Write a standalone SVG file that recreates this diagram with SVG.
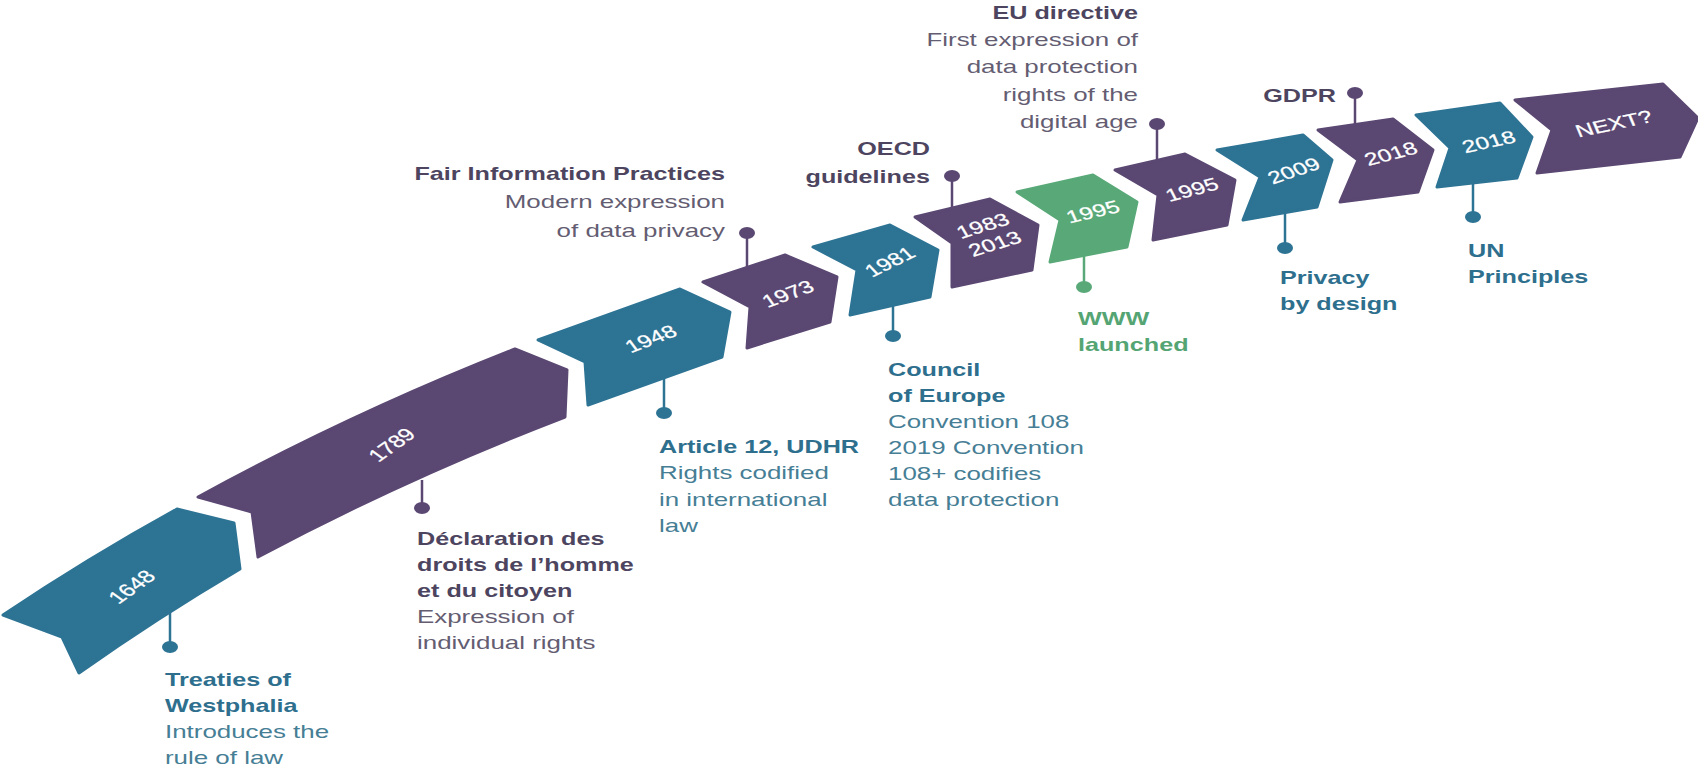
<svg xmlns="http://www.w3.org/2000/svg" width="1698" height="767" viewBox="0 0 1698 767">
<style>
text{font-family:"Liberation Sans",Arial,sans-serif}
.b{font-weight:bold;font-size:18px}
.r{font-weight:normal;font-size:18.5px}
.date{fill:#ffffff;font-size:17.5px;text-anchor:middle;dominant-baseline:central;stroke:#ffffff;stroke-width:0.25}
.teal{fill:#2d7394;stroke:#2d7394}
.purple{fill:#5a4772;stroke:#5a4772}
.green{fill:#59a978;stroke:#59a978}
.shape{stroke-width:3;stroke-linejoin:round}
.tb{fill:#2e6f8e}.tr{fill:#467e95}
.pb{fill:#4d4560}.pr{fill:#645d72}
.gb{fill:#55a574}
.ln{stroke-width:2.5;fill:none}
.lt{stroke:#2d7394}.lp{stroke:#5a4772}.lg{stroke:#59a978}
.dt{fill:#2d7394}.dp{fill:#5a4772}.dg{fill:#59a978}
</style>
<rect width="1698" height="767" fill="#ffffff"/>

<g id="connectors">
<line class="ln lt" x1="170" y1="612" x2="170" y2="647"/><ellipse class="dt" cx="170" cy="647" rx="8" ry="6"/>
<line class="ln lp" x1="422" y1="480" x2="422" y2="508"/><ellipse class="dp" cx="422" cy="508" rx="8" ry="6"/>
<line class="ln lt" x1="664" y1="378" x2="664" y2="413"/><ellipse class="dt" cx="664" cy="413" rx="8" ry="6"/>
<line class="ln lp" x1="747" y1="268" x2="747" y2="233"/><ellipse class="dp" cx="747" cy="233" rx="8" ry="6"/>
<line class="ln lt" x1="893" y1="305" x2="893" y2="336"/><ellipse class="dt" cx="893" cy="336" rx="8" ry="6"/>
<line class="ln lp" x1="952" y1="208" x2="952" y2="176"/><ellipse class="dp" cx="952" cy="176" rx="8" ry="6"/>
<line class="ln lg" x1="1084" y1="255" x2="1084" y2="287"/><ellipse class="dg" cx="1084" cy="287" rx="8" ry="6"/>
<line class="ln lp" x1="1157" y1="161" x2="1157" y2="124"/><ellipse class="dp" cx="1157" cy="124" rx="8" ry="6"/>
<line class="ln lt" x1="1285" y1="213" x2="1285" y2="248"/><ellipse class="dt" cx="1285" cy="248" rx="8" ry="6"/>
<line class="ln lp" x1="1355" y1="125" x2="1355" y2="93"/><ellipse class="dp" cx="1355" cy="93" rx="8" ry="6"/>
<line class="ln lt" x1="1473" y1="183" x2="1473" y2="217"/><ellipse class="dt" cx="1473" cy="217" rx="8" ry="6"/>
</g>

<g id="n1648">
<path class="shape teal" d="M3,615 Q88,558 177,509 L234,523 L240,569 Q157,618 79,673 L62,637 Z"/>
<text class="date" transform="translate(132,587) scale(1.4,1) rotate(-45)">1648</text>
<text transform="translate(165,686) scale(1.4,1)"><tspan class="b tb" x="0" y="0">Treaties of</tspan><tspan class="b tb" x="0" dy="26">Westphalia</tspan><tspan class="r tr" x="0" dy="26">Introduces the</tspan><tspan class="r tr" x="0" dy="26">rule of law</tspan></text>
</g>

<g id="n1789">
<path class="shape purple" d="M198,497 Q352,413 515,349 L567,370 L565,417 Q406,478 258,557 L252,512 Z"/>
<text class="date" transform="translate(392,445) scale(1.4,1) rotate(-45)">1789</text>
<text transform="translate(417,545) scale(1.4,1)"><tspan class="b pb" x="0" y="0">Déclaration des</tspan><tspan class="b pb" x="0" dy="26">droits de l’homme</tspan><tspan class="b pb" x="0" dy="26">et du citoyen</tspan><tspan class="r pr" x="0" dy="26">Expression of</tspan><tspan class="r pr" x="0" dy="26">individual rights</tspan></text>
</g>

<g id="n1948">
<polygon class="shape teal" points="538,340 680,289 730,312 722,357 588,405 585,362"/>
<text class="date" transform="translate(651,339) scale(1.4,1) rotate(-28)">1948</text>
<text transform="translate(659,453) scale(1.4,1)"><tspan class="b tb" x="0" y="0">Article 12, UDHR</tspan><tspan class="r tr" x="0" dy="26.5">Rights codified</tspan><tspan class="r tr" x="0" dy="26.5">in international</tspan><tspan class="r tr" x="0" dy="26.5">law</tspan></text>
</g>

<g id="n1973">
<polygon class="shape purple" points="703,282 785,255 837,277 830,322 747,348 750,307"/>
<text class="date" transform="translate(788,294) scale(1.4,1) rotate(-27)">1973</text>
<text text-anchor="end" transform="translate(725,180) scale(1.4,1)"><tspan class="b pb" x="0" y="0">Fair Information Practices</tspan><tspan class="r pr" x="0" dy="28.5">Modern expression</tspan><tspan class="r pr" x="0" dy="28.5">of data privacy</tspan></text>
</g>

<g id="n1981">
<polygon class="shape teal" points="813,247 890,225 938,250 930,297 850,315 857,270"/>
<text class="date" transform="translate(890,262) scale(1.4,1) rotate(-34)">1981</text>
<text transform="translate(888,376) scale(1.4,1)"><tspan class="b tb" x="0" y="0">Council</tspan><tspan class="b tb" x="0" dy="26">of Europe</tspan><tspan class="r tr" x="0" dy="26">Convention 108</tspan><tspan class="r tr" x="0" dy="26">2019 Convention</tspan><tspan class="r tr" x="0" dy="26">108+ codifies</tspan><tspan class="r tr" x="0" dy="26">data protection</tspan></text>
</g>

<g id="n1983">
<polygon class="shape purple" points="915,217 990,199 1038,225 1032,270 952,287 952,243"/>
<text class="date" transform="translate(983,226) scale(1.4,1) rotate(-23)">1983</text>
<text class="date" transform="translate(995,244) scale(1.4,1) rotate(-23)">2013</text>
<text text-anchor="end" transform="translate(930,155) scale(1.4,1)"><tspan class="b pb" x="0" y="0">OECD</tspan><tspan class="b pb" x="0" dy="28">guidelines</tspan></text>
</g>

<g id="n1995www">
<polygon class="shape green" points="1017,192 1093,175 1137,202 1127,247 1050,262 1060,220"/>
<text class="date" transform="translate(1093,212) scale(1.4,1) rotate(-18)">1995</text>
<text transform="translate(1078,325) scale(1.4,1)"><tspan class="b gb" x="0" y="0">WWW</tspan><tspan class="b gb" x="0" dy="26">launched</tspan></text>
</g>

<g id="n1995eu">
<polygon class="shape purple" points="1115,170 1185,154 1235,180 1227,225 1153,240 1158,195"/>
<text class="date" transform="translate(1192,190) scale(1.4,1) rotate(-20)">1995</text>
<text text-anchor="end" transform="translate(1138,19) scale(1.4,1)"><tspan class="b pb" x="0" y="0">EU directive</tspan><tspan class="r pr" x="0" dy="27.2">First expression of</tspan><tspan class="r pr" x="0" dy="27.2">data protection</tspan><tspan class="r pr" x="0" dy="27.2">rights of the</tspan><tspan class="r pr" x="0" dy="27.2">digital age</tspan></text>
</g>

<g id="n2009">
<polygon class="shape teal" points="1217,150 1303,135 1332,160 1317,207 1243,220 1260,177"/>
<text class="date" transform="translate(1294,171) scale(1.4,1) rotate(-25)">2009</text>
<text transform="translate(1280,284) scale(1.4,1)"><tspan class="b tb" x="0" y="0">Privacy</tspan><tspan class="b tb" x="0" dy="26">by design</tspan></text>
</g>

<g id="n2018gdpr">
<polygon class="shape purple" points="1318,130 1393,119 1433,150 1418,192 1340,202 1358,160"/>
<text class="date" transform="translate(1391,154) scale(1.4,1) rotate(-20)">2018</text>
<text text-anchor="end" transform="translate(1336,102) scale(1.4,1)"><tspan class="b pb" x="0" y="0">GDPR</tspan></text>
</g>

<g id="n2018un">
<polygon class="shape teal" points="1416,115 1500,103 1532,137 1517,178 1437,187 1450,148"/>
<text class="date" transform="translate(1489,142) scale(1.4,1) rotate(-17)">2018</text>
<text transform="translate(1468,257) scale(1.4,1)"><tspan class="b tb" x="0" y="0">UN</tspan><tspan class="b tb" x="0" dy="26">Principles</tspan></text>
</g>

<g id="nNext">
<polygon class="shape purple" points="1515,100 1663,84 1698,118 1680,157 1537,173 1552,130"/>
<text class="date" transform="translate(1614,124) scale(1.4,1) rotate(-16.6)">NEXT?</text>
</g>
</svg>
